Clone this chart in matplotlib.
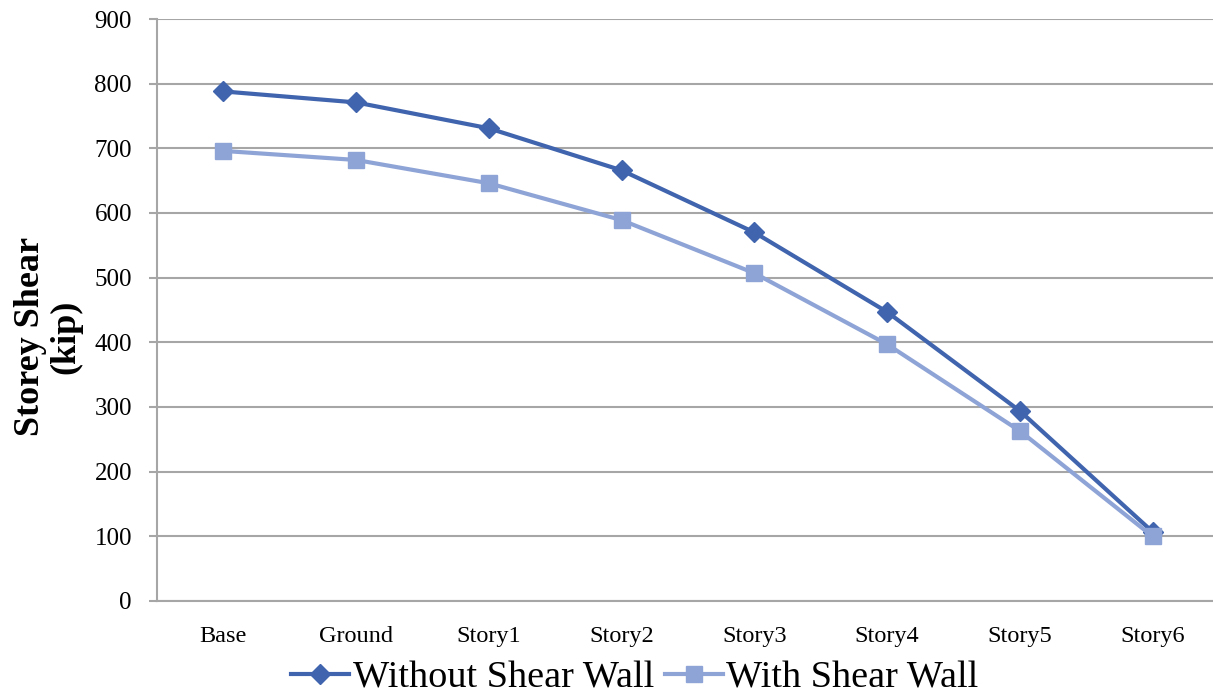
import numpy as np
import matplotlib.pyplot as plt

plt.rcParams['font.family'] = ['Liberation Serif', 'DejaVu Serif']

stories = ['Base', 'Ground', 'Story1', 'Story2', 'Story3', 'Story4', 'Story5', 'Story6']
without_wall = [788, 771, 731, 666, 570, 447, 294, 107]
with_wall = [696, 682, 646, 589, 507, 397, 263, 100]

fig = plt.figure(figsize=(12.13, 6.96), dpi=100)
ax = fig.add_axes([0.1294, 0.1365, 0.8755, 0.8362])

x = np.arange(len(stories))
ax.plot(x, without_wall, color='#4064AD', lw=3, marker='D', ms=10,
        label='Without Shear Wall', zorder=2)
ax.plot(x, with_wall, color='#8FA4D6', lw=3, marker='s', ms=12,
        label='With Shear Wall', zorder=3)

ax.set_xlim(-0.5, 7.5)
ax.set_ylim(0, 900)
ax.set_yticks(range(0, 901, 100))
ax.set_xticks(x)
ax.set_xticklabels(stories)
ax.tick_params(axis='y', labelsize=18, length=6, color='#A6A6A6', width=1.5, pad=12)
ax.tick_params(axis='x', labelsize=17.5, length=0, pad=18)
ax.grid(axis='y', color='#A6A6A6', lw=1.5)
ax.set_axisbelow(True)
for s in ['top', 'right']:
    ax.spines[s].set_visible(False)
for s in ['left', 'bottom']:
    ax.spines[s].set_color('#A6A6A6')
    ax.spines[s].set_linewidth(1.5)

fig.text(0.040, 0.516, 'Storey Shear\n(kip)', rotation=90, ha='center', va='center',
         fontsize=26, fontweight='bold', linespacing=1.1)

fig.legend(loc='center', bbox_to_anchor=(0.5235, 0.026), ncol=2, frameon=False,
           fontsize=27.5, handlelength=1.5, handletextpad=0.1, columnspacing=0.3)

fig.savefig('out.png', dpi=100)
